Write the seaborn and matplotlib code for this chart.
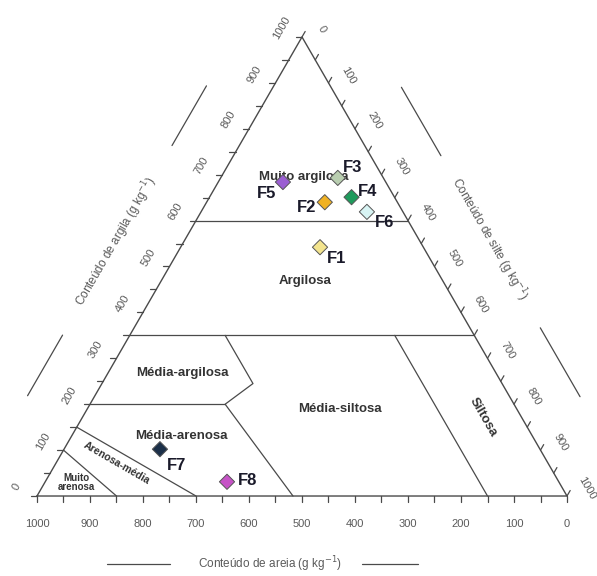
import numpy as np
import pandas as pd
import matplotlib
matplotlib.use("Agg")
import matplotlib.pyplot as plt
import seaborn as sns

# sample composition (g/kg)
samples = ["F1", "F2", "F3", "F4", "F5", "F6", "F7", "F8"]
sand = [195, 137, 86, 81, 194, 68, 717, 626]
clay = [542, 640, 693, 651, 684, 619, 102, 31]
silt = [263, 223, 221, 268, 122, 313, 181, 343]
colors = ["#f3e48e", "#f0b224", "#b9ceb0", "#1f9a5c",
          "#9b5fd2", "#d8f4f4", "#1c3049", "#c653c6"]

tick_values = list(range(0, 1001, 100))

# class boundaries as (sand, clay) pairs
boundaries = [
    [(400, 600), (0, 600)],
    [(650, 350), (0, 350)],
    [(800, 200), (545, 200)],
    [(470, 350), (470, 245), (545, 200), (517, 0)],
    [(150, 350), (150, 0)],
    [(850, 150), (700, 0)],
    [(900, 100), (850, 0)],
]

H = np.sqrt(3) / 2


def tern(s, c):
    return 1000 - s - c / 2, c * H


sns.set_style("white")
plt.rcParams["font.family"] = ["Liberation Sans", "DejaVu Sans"]

fig = plt.figure(figsize=(5.97, 5.76), dpi=100)
ax = fig.add_axes([0, 0, 1, 1])
ax.set_xlim(-69.8, 1056.6)
ax.set_ylim(-150.9, 935.8)
ax.axis("off")

line_col = "#4a4a4a"
txt_col = "#5a5a5a"

# outline
ox, oy = zip(*[tern(1000, 0), tern(0, 0), tern(0, 1000), tern(1000, 0)])
ax.plot(ox, oy, color=line_col, lw=1.0, zorder=2)
for b in boundaries:
    bx, by = zip(*[tern(s, c) for s, c in b])
    ax.plot(bx, by, color=line_col, lw=0.9, zorder=2)

# ticks
L = 12
nl = np.array([-H, 0.5])      # left edge outward normal
ul = np.array([0.5, H])       # left edge direction (up)
nr = np.array([H, 0.5])       # right edge outward normal
ur = np.array([0.5, -H])      # right edge direction (down)
for v in range(0, 1001, 50):
    x0, y0 = tern(v, 0)
    ax.plot([x0, x0], [0, -L], color=line_col, lw=0.9)
    p = np.array(tern(1000 - v, v))
    ax.plot([p[0], p[0] - L], [p[1], p[1]], color=line_col, lw=0.9)
    q = np.array(tern(0, 1000 - v))
    ax.plot([q[0], q[0] + 0.5 * L], [q[1], q[1] + H * L], color=line_col, lw=0.9)

for v in tick_values:
    x0, _ = tern(v, 0)
    ax.text(x0, -53, str(v), ha="center", va="center", fontsize=8, color=txt_col)
    p = np.array(tern(1000 - v, v)) + nl * 42 - ul * 5
    ax.text(p[0], p[1], str(v), ha="center", va="center", fontsize=8,
            color=txt_col, rotation=60)
    q = np.array(tern(0, 1000 - v)) + nr * 40 + ur * 6
    ax.text(q[0], q[1], str(v), ha="center", va="center", fontsize=8,
            color=txt_col, rotation=-60)

# axis titles with flanking lines
ax.text(440, -128, "Conteúdo de areia (g kg$^{-1}$)", ha="center", va="center",
        fontsize=8.5, color=txt_col)
ax.plot([132, 251], [-128, -128], color=line_col, lw=0.9)
ax.plot([613, 719], [-128, -128], color=line_col, lw=0.9)

c0 = np.array([0.0, 0.0])
t = c0 + ul * 491 + nl * 110
ax.text(t[0], t[1], "Conteúdo de argila (g kg$^{-1}$)", ha="center", va="center",
        fontsize=8.5, color=txt_col, rotation=60)
for a, b in [(155, 287), (700, 830)]:
    p1 = c0 + ul * a + nl * 110
    p2 = c0 + ul * b + nl * 110
    ax.plot([p1[0], p2[0]], [p1[1], p2[1]], color=line_col, lw=0.9)

top = np.array(tern(0, 1000))
t = top + ur * 507 + nr * 114
ax.text(t[0], t[1], "Conteúdo de silte (g kg$^{-1}$)", ha="center", va="center",
        fontsize=8.5, color=txt_col, rotation=-60)
for a, b in [(176, 325), (700, 850)]:
    p1 = top + ur * a + nr * 115
    p2 = top + ur * b + nr * 115
    ax.plot([p1[0], p2[0]], [p1[1], p2[1]], color=line_col, lw=0.9)

# class labels
reg_col = "#333333"
labels = [
    ("Muito argilosa", 504, 602, 0, 9.5),
    ("Argilosa", 506, 406, 0, 9.5),
    ("Média-argilosa", 274, 232, 0, 9.5),
    ("Média-siltosa", 572, 164, 0, 9.5),
    ("Siltosa", 841, 149, -60, 9.5),
    ("Média-arenosa", 272, 113, 0, 9.5),
    ("Arenosa-média", 151, 62, -30, 7.5),
    ("Muito\narenosa", 74, 25, 0, 7),
]
for txt, x, y, rot, fs in labels:
    ax.text(x, y, txt, ha="center", va="center", fontsize=fs, fontweight="bold",
            color=reg_col, rotation=rot, linespacing=0.9, zorder=3)

# samples
df = pd.DataFrame({"amostra": samples, "areia": sand, "silte": silt, "argila": clay})
df["x"] = df["silte"] + df["argila"] / 2
df["y"] = df["argila"] * H
sns.scatterplot(data=df, x="x", y="y", hue="amostra", palette=dict(zip(samples, colors)),
                marker="D", s=60, edgecolor="#555555", linewidth=0.7,
                legend=False, ax=ax, zorder=5)

offsets = {"F1": (17, -11), "F2": (-18, -5), "F3": (15, 10), "F4": (16, 6),
           "F5": (-16, -11), "F6": (18, -11), "F7": (17, -16), "F8": (21, 1)}
for _, r in df.iterrows():
    ax.annotate(r["amostra"], (r["x"], r["y"]), xytext=offsets[r["amostra"]],
                textcoords="offset pixels", ha="center", va="center",
                fontsize=12, fontweight="bold", color="#1a1a2a", zorder=6)

ax.set_xlim(-69.8, 1056.6)
ax.set_ylim(-150.9, 935.8)
fig.savefig("out.png", dpi=100)
